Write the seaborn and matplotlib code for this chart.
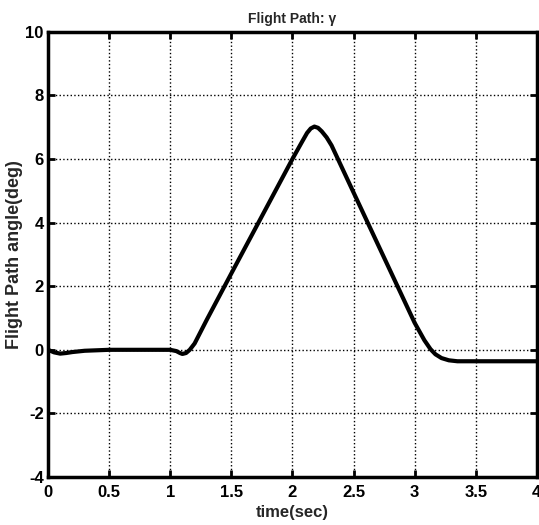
import matplotlib
matplotlib.use("Agg")
import matplotlib.pyplot as plt
import seaborn as sns
import pandas as pd

time_sec = [0.0, 0.05, 0.1, 0.15, 0.2, 0.3, 0.5, 1.0, 1.05, 1.08, 1.1, 1.13, 1.16, 1.2, 1.3, 1.5,
            2.0, 2.08, 2.12, 2.15, 2.18, 2.21, 2.24, 2.28, 2.32, 2.5, 3.0, 3.08, 3.13, 3.17,
            3.22, 3.28, 3.35, 3.4, 4.0]
gamma_deg = [0.0, -0.08, -0.12, -0.1, -0.07, -0.03, 0.0, 0.0, -0.04, -0.1, -0.13, -0.1, 0.0, 0.2, 0.95, 2.4,
             6.0, 6.55, 6.82, 6.96, 7.02, 6.98, 6.87, 6.68, 6.43, 4.95, 0.85, 0.3, 0.02, -0.14,
             -0.26, -0.33, -0.36, -0.36, -0.36]
x_ticks = [0, 0.5, 1, 1.5, 2, 2.5, 3, 3.5, 4]
x_ticklabels = ["0", "0.5", "1", "1.5", "2", "2.5", "3", "3.5", "4"]
y_ticks = [-4, -2, 0, 2, 4, 6, 8, 10]
y_ticklabels = ["-4", "-2", "0", "2", "4", "6", "8", "10"]

sns.set_theme(style="white")
plt.rcParams['font.family'] = ['Liberation Sans', 'DejaVu Sans']
plt.rcParams['axes.unicode_minus'] = False

df = pd.DataFrame({"t": time_sec, "g": gamma_deg})

fig = plt.figure(figsize=(5.39, 5.25), dpi=100)
ax = fig.add_axes([0.089, 0.0914, 0.907, 0.848])
sns.lineplot(data=df, x="t", y="g", ax=ax, color="black", linewidth=3.0)

ax.set_xlim(0, 4)
ax.set_ylim(-4, 10)
ax.set_xticks(x_ticks)
ax.set_xticklabels(x_ticklabels)
ax.set_yticks(y_ticks)
ax.set_yticklabels(y_ticklabels)
ax.grid(True, color="black", linestyle=":", linewidth=1.0)
for s in ax.spines.values():
    s.set_color("black")
    s.set_linewidth(2.5)
ax.tick_params(direction="in", length=5, width=2, colors="black", labelsize=12,
               top=True, right=True, bottom=True, left=True, pad=3)
ax.tick_params(axis="x", pad=6)
for lbl in ax.get_xticklabels() + ax.get_yticklabels():
    lbl.set_fontweight("bold")
ax.set_title("Flight Path: γ", fontsize=10, fontweight="bold", pad=6)
ax.set_xlabel("time(sec)", fontsize=12, fontweight="bold", labelpad=3)
ax.set_ylabel("Flight Path angle(deg)", fontsize=13, fontweight="bold")
ax.yaxis.set_label_coords(-0.052, 0.5)

fig.savefig("out.png", dpi=100)
